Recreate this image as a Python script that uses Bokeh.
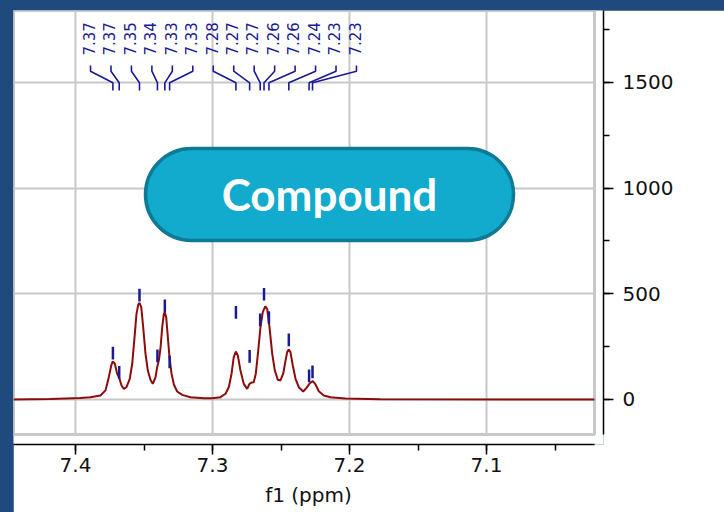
import math
from bokeh.plotting import figure
from bokeh.layouts import column
from bokeh.models import (Range1d, SingleIntervalTicker, PrintfTickFormatter,
                          BoxAnnotation, Label)
from bokeh.core.properties import value
from bokeh.embed import file_html
from bokeh.resources import INLINE

# ---------------- data ----------------
spec_ppm = [7.4453, 7.4182, 7.3964, 7.3891, 7.3818, 7.3781, 7.3757, 7.3739, 7.3728,
            7.3713, 7.3696, 7.3679, 7.3664, 7.3647, 7.3628, 7.3604, 7.3586, 7.3569,
            7.3555, 7.3542, 7.3533, 7.3520, 7.3506, 7.3489, 7.3472, 7.3453, 7.3436,
            7.3416, 7.3404, 7.3392, 7.3380, 7.3367, 7.3355, 7.3348, 7.3338, 7.3326,
            7.3314, 7.3299, 7.3282, 7.3258, 7.3221, 7.3161, 7.3064, 7.3002, 7.2942,
            7.2905, 7.2881, 7.2861, 7.2845, 7.2830, 7.2815, 7.2796, 7.2772, 7.2747,
            7.2730, 7.2715, 7.2699, 7.2684, 7.2666, 7.2650, 7.2633, 7.2615, 7.2601,
            7.2584, 7.2564, 7.2545, 7.2523, 7.2504, 7.2484, 7.2467, 7.2455, 7.2443,
            7.2431, 7.2414, 7.2394, 7.2370, 7.2338, 7.2314, 7.2290, 7.2268, 7.2248,
            7.2224, 7.2188, 7.2139, 7.2029, 7.1774, 7.0212]
spec_int = [0, 2, 7, 11, 19, 43, 105, 161, 180,
            169, 122, 98, 66, 50, 58, 98, 169, 295,
            405, 449, 457, 437, 342, 216, 137, 93, 74,
            105, 153, 184, 240, 342, 405, 413, 389, 295,
            200, 122, 71, 38, 22, 11, 6, 6, 11,
            27, 58, 122, 200, 227, 208, 137, 74, 50,
            74, 80, 82, 122, 232, 342, 413, 441, 429,
            342, 216, 137, 93, 90, 122, 184, 224, 236,
            224, 161, 98, 58, 38, 55, 77, 87, 71,
            39, 19, 11, 5, 1, 0]

peak_ppm = [7.3727, 7.3681, 7.3533, 7.3402, 7.3348, 7.3313, 7.2829,
            7.2729, 7.2652, 7.2624, 7.2588, 7.2443, 7.2295, 7.2270]
peak_mark = [189, 98, 464, 176, 413, 148, 382,
             174, 347, 468, 358, 252, 82, 101]
peak_labels = [f"{v:.2f}" for v in peak_ppm]

x_ticks = [7.4, 7.3, 7.2, 7.1]
y_ticks = [0, 500, 1000, 1500]
title_text = "Compound"
x_title = "f1 (ppm)"

# ---------------- style / layout constants ----------------
BLUE_BG = "#1F4A7E"
GRID = "#C8C8C8"
RED = "#8E0B0B"
NAVY = "#1A1A96"
X_LEFT, X_RIGHT = 7.44526, 7.01460
BOX_RIGHT = 7.02117
Y_BOTTOM, Y_TOP = -212.9, 1840.1
BOX_BOTTOM = -165.6
FONT = "DejaVu Sans"

p = figure(width=711, height=502, output_backend="svg", toolbar_location=None,
           x_range=Range1d(X_LEFT, X_RIGHT), y_range=Range1d(Y_BOTTOM, Y_TOP),
           y_axis_location="right", min_border_left=0, min_border_top=0,
           min_border_right=121, min_border_bottom=68)
p.margin = (10, 0, 0, 13)
p.outline_line_color = None
p.background_fill_color = "white"
p.border_fill_color = "white"

# axes
xa = p.xaxis[0]
xa.ticker = SingleIntervalTicker(interval=0.1, num_minor_ticks=2)
xa.formatter = PrintfTickFormatter(format="%.1f")
xa.bounds = (BOX_RIGHT, X_LEFT)
ya = p.yaxis[0]
ya.ticker = SingleIntervalTicker(interval=500, num_minor_ticks=2)
ya.bounds = (BOX_BOTTOM, Y_TOP)
for ax in (xa, ya):
    ax.axis_line_color = "black"
    ax.axis_line_width = 1.5
    ax.major_tick_line_color = "black"
    ax.minor_tick_line_color = "black"
    ax.major_tick_line_width = 1.5
    ax.minor_tick_line_width = 1.5
    ax.major_tick_in = 0
    ax.major_tick_out = 10
    ax.minor_tick_in = 0
    ax.minor_tick_out = 6
    ax.major_label_text_font = FONT
    ax.major_label_text_font_size = "20px"
    ax.major_label_text_color = "#111111"
xa.major_label_standoff = 3
ya.major_label_standoff = 9
xa.axis_label = x_title
xa.axis_label_text_font = FONT
xa.axis_label_text_font_size = "20px"
xa.axis_label_text_font_style = "normal"
xa.axis_label_text_color = "#111111"
xa.axis_label_standoff = 8

# grids
p.xgrid.ticker = SingleIntervalTicker(interval=0.1)
p.ygrid.ticker = SingleIntervalTicker(interval=500)
p.xgrid.bounds = (BOX_RIGHT, X_LEFT)
p.ygrid.bounds = (BOX_BOTTOM, Y_TOP)
p.xgrid.cross_bounds = (BOX_BOTTOM, Y_TOP)
p.ygrid.cross_bounds = (BOX_RIGHT, X_LEFT)
for g in (p.xgrid, p.ygrid):
    g.grid_line_color = GRID
    g.grid_line_width = 2

# gray box
p.add_layout(BoxAnnotation(left=X_LEFT, right=BOX_RIGHT, bottom=BOX_BOTTOM, top=Y_TOP,
                           fill_color=None, fill_alpha=0, line_color=GRID, line_alpha=1.0,
                           line_width=3, level="underlay"))

# spectrum
p.line(spec_ppm, spec_int, line_color=RED, line_width=2)

# peak marks
TICK_LEN = 60
p.segment(x0=peak_ppm, y0=peak_mark, x1=peak_ppm,
          y1=[v + TICK_LEN for v in peak_mark], line_color=NAVY, line_width=2.5)

# label connectors
LABEL_X0, LABEL_STEP = 7.38905, 0.014934
label_x = [LABEL_X0 - i * LABEL_STEP for i in range(len(peak_ppm))]
Y_C = [1580, 1553, 1498, 1462]
xs = [[lx, lx, pp, pp] for lx, pp in zip(label_x, peak_ppm)]
ys = [Y_C[:] for _ in peak_ppm]
p.multi_line(xs, ys, line_color=NAVY, line_width=1.6)

p.text(x=label_x, y=[1627] * len(label_x), text=peak_labels, angle=math.pi / 2,
       text_align="left", text_baseline="alphabetic", x_offset=-1.7,
       text_font=value(FONT), text_font_size="15px", text_color=NAVY)

# compound pill
p.add_layout(BoxAnnotation(left=7.34891, right=7.08029, top=1187.3, bottom=752.1,
                           fill_color="#12AACD", fill_alpha=1.0, line_color="#0E7A96",
                           line_alpha=1.0, line_width=3.5, border_radius=46, level="overlay"))
p.add_layout(Label(x=7.21460, y=971, text=title_text, text_align="center",
                   text_baseline="alphabetic", text_font="Lato", text_font_style="bold",
                   text_font_size="44px", text_color="white", level="overlay"))

root = column(p, width=724, height=512, styles={"background-color": BLUE_BG})
open("out.html", "w").write(file_html(root, INLINE))
